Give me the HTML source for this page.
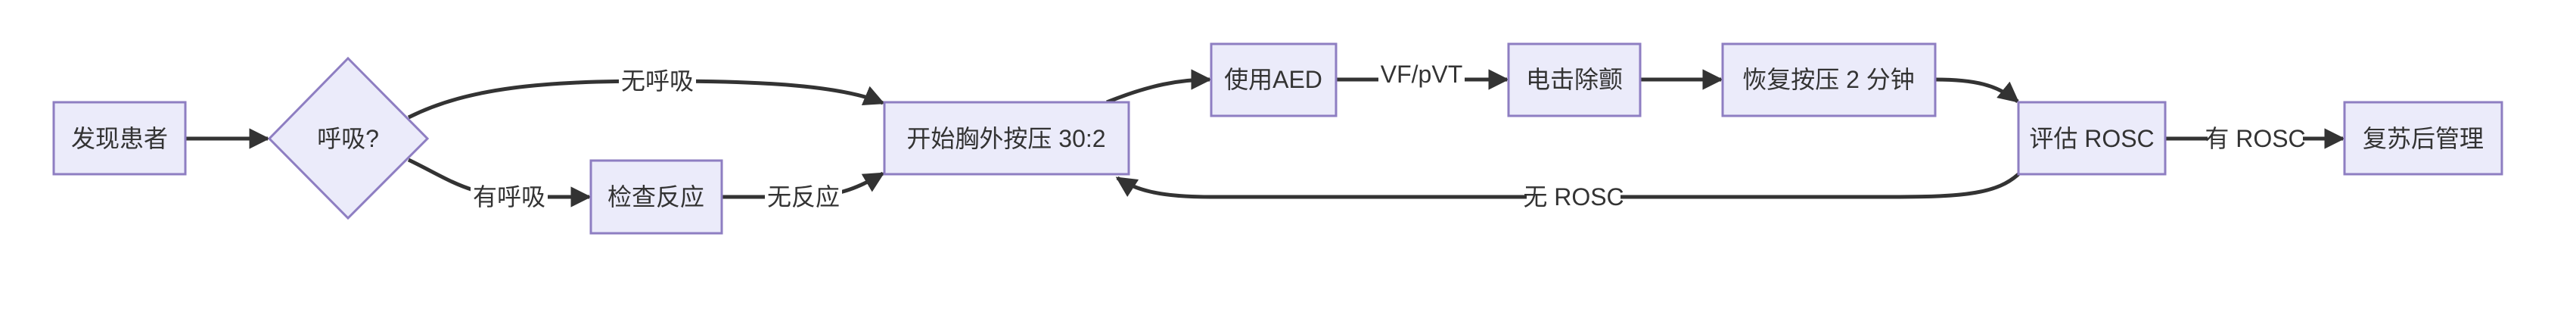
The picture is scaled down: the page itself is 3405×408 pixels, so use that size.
<!DOCTYPE html>
<html><head><meta charset="utf-8"><style>
html,body{margin:0;padding:0;background:#fff;}
svg{display:block;}
text{font-family:"Liberation Sans","Noto Sans CJK SC",sans-serif;font-size:32px;fill:#333;dominant-baseline:central;text-anchor:middle;}
.n{fill:#EBEBFA;stroke:#8E7EC2;stroke-width:3;}
.e{fill:none;stroke:#333;stroke-width:5;}
</style></head><body>
<svg width="3405" height="408" viewBox="0 0 3405 408" xmlns="http://www.w3.org/2000/svg">
<defs>
<marker id="a" viewBox="0 0 10 10" refX="9" refY="5" markerWidth="5.5" markerHeight="5.5" markerUnits="strokeWidth" orient="auto">
<path d="M0,0 L10,5 L0,10 z" fill="#333"/>
</marker>
</defs>
<path class="e" d="M245,183 L354,183" marker-end="url(#a)"/>
<path class="e" d="M540,155 C620,115 720,107 869,107 C1000,107 1110,112 1167,136" marker-end="url(#a)"/>
<path class="e" d="M540,211 C600,240 620,260 700,260 L779,260" marker-end="url(#a)"/>
<path class="e" d="M954,260 L1060,260 C1110,260 1140,245 1167,229" marker-end="url(#a)"/>
<path class="e" d="M1463,135 C1520,112 1560,105 1599,105" marker-end="url(#a)"/>
<path class="e" d="M1766,105 L1992,105" marker-end="url(#a)"/>
<path class="e" d="M2168,105 L2275,105" marker-end="url(#a)"/>
<path class="e" d="M2558,105 C2610,105 2640,112 2667,134" marker-end="url(#a)"/>
<path class="e" d="M2862,183 L3097,183" marker-end="url(#a)"/>
<path class="e" d="M2668,230 C2640,255 2600,260 2500,260 L1600,260 C1530,260 1500,250 1477,235" marker-end="url(#a)"/>
<rect x="818" y="89" width="102" height="36" fill="#fff"/><text x="869" y="107">无呼吸</text>
<rect x="622" y="242" width="102" height="36" fill="#fff"/><text x="673" y="260">有呼吸</text>
<rect x="1011" y="242" width="102" height="36" fill="#fff"/><text x="1062" y="260">无反应</text>
<rect x="1822" y="80" width="114" height="36" fill="#fff"/><text x="1879" y="98">VF/pVT</text>
<rect x="2018" y="242" width="124" height="36" fill="#fff"/><text x="2080" y="260">无 ROSC</text>
<rect x="2918" y="165" width="126" height="36" fill="#fff"/><text x="2981" y="183">有 ROSC</text>
<rect class="n" x="71" y="135" width="174" height="95"/><text x="158" y="183">发现患者</text>
<polygon class="n" points="460,77 565,183 460,288 356,183"/><text x="460" y="183">呼吸?</text>
<rect class="n" x="781" y="212" width="173" height="96"/><text x="867" y="260">检查反应</text>
<rect class="n" x="1169" y="135" width="323" height="95"/><text x="1330" y="183">开始胸外按压 30:2</text>
<rect class="n" x="1601" y="58" width="165" height="95"/><text x="1683" y="105">使用AED</text>
<rect class="n" x="1994" y="58" width="174" height="95"/><text x="2081" y="105">电击除颤</text>
<rect class="n" x="2277" y="58" width="281" height="95"/><text x="2417" y="105">恢复按压 2 分钟</text>
<rect class="n" x="2668" y="135" width="194" height="95"/><text x="2765" y="183">评估 ROSC</text>
<rect class="n" x="3099" y="135" width="208" height="95"/><text x="3203" y="183">复苏后管理</text>
</svg>
</body></html>
